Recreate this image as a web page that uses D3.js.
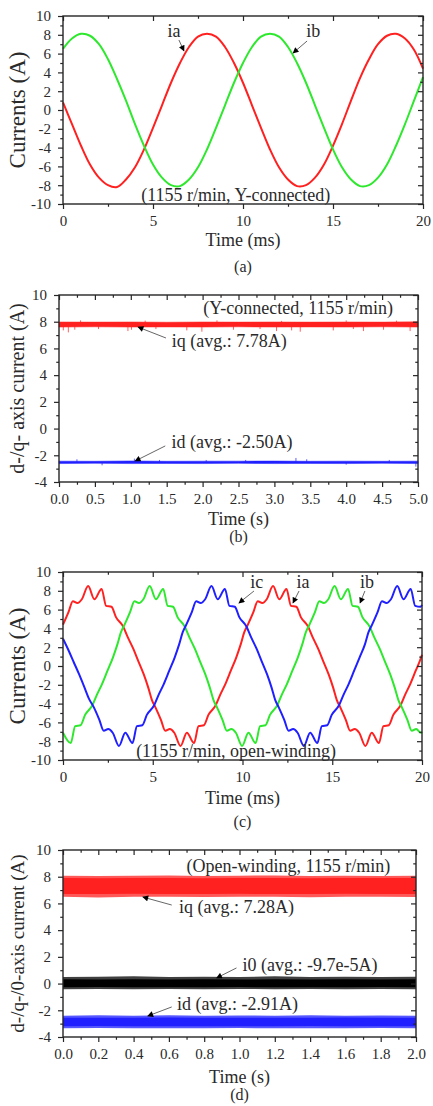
<!DOCTYPE html>
<html>
<head>
<meta charset="utf-8">
<script src="https://cdn.jsdelivr.net/npm/d3@7"></script>
<style>
  body { margin: 0; background: #fff; }
  svg { display: block; }
  text { font-family: "Liberation Serif", "Times New Roman", serif; fill: #2a2a2a; }
</style>
</head>
<body>
<svg id="chart" width="433" height="1106"></svg>
<script>
// ---------------- data ----------------

// (a) Y-connected phase currents, time in ms
const timeA = [0,0.5,1,1.5,2,2.5,3,3.5,4,4.5,5,5.5,6,6.5,7,7.5,8,8.5,9,9.5,10,
  10.5,11,11.5,12,12.5,13,13.5,14,14.5,15,15.5,16,16.5,17,17.5,18,18.5,19,19.5,20];
const iaA = [0.8,-1.5,-3.8,-5.8,-7.2,-8.0,-8.2,-7.4,-6.1,-4.2,-1.9,0.5,2.9,5.0,6.7,7.8,8.1,7.8,6.7,5.0,2.9,
  0.5,-1.9,-4.2,-6.1,-7.4,-8.1,-8.0,-7.2,-5.8,-3.8,-1.5,1.0,3.4,5.4,7.0,7.9,8.1,7.6,6.4,4.4];
const ibA = [6.5,7.6,8.1,7.9,7.0,5.4,3.3,1.0,-1.5,-3.8,-5.8,-7.2,-8.0,-8.1,-7.4,-6.1,-4.2,-1.9,0.5,2.9,5.0,
  6.7,7.8,8.1,7.8,6.7,5.0,2.9,0.5,-1.9,-4.2,-6.1,-7.4,-8.1,-8.0,-7.2,-5.8,-3.8,-1.5,1.0,3.5];

// (b) Y-connected d/q currents, time in s: [t, low edge, high edge]
const iqAvgB = 7.78;
const iqBandB = [[0,7.6,7.98],[0.5,7.62,7.97],[1,7.6,7.98],[1.5,7.61,7.96],[2,7.6,7.98],[2.5,7.62,7.97],
  [3,7.6,7.98],[3.5,7.61,7.97],[4,7.6,7.98],[4.5,7.62,7.97],[5,7.6,7.99]];
const iqSpikesB = [[0.06,7.35],[0.13,7.2],[0.22,7.4],[0.3,8.1],[0.55,7.45],[0.96,7.3],[1.01,7.4],[1.2,8.08],
  [1.35,7.45],[1.78,7.35],[1.99,7.25],[2.2,8.1],[2.43,7.4],[2.8,7.45],[3.03,7.3],[3.1,8.06],[3.24,7.35],
  [3.36,7.25],[3.82,7.35],[4.0,8.1],[4.1,7.45],[4.24,7.3],[4.52,7.4],[4.7,8.08],[4.89,7.3]];
const idAvgB = -2.50;
const idBandB = [[0,-2.62,-2.44],[0.5,-2.6,-2.45],[1,-2.62,-2.42],[1.5,-2.61,-2.45],[2,-2.62,-2.44],
  [2.5,-2.6,-2.44],[3,-2.62,-2.43],[3.5,-2.61,-2.45],[4,-2.62,-2.44],[4.5,-2.6,-2.45],[5,-2.62,-2.44]];
const idSpikesB = [[0.25,-2.3],[0.6,-2.75],[1.05,-2.25],[1.4,-2.35],[2.05,-2.35],[2.6,-2.35],[3.3,-2.2],
  [3.45,-2.3],[4.0,-2.7],[4.6,-2.35],[4.97,-2.85]];

// (c) open-winding phase currents, [t (ms), A]
const iaC = [[0,4.4],[0.3,5.7],[0.55,6.9],[0.8,6.7],[1.05,7.1],[1.4,8.5],[1.75,7.1],[2.15,8.2],[2.4,6.4],
  [2.7,6.3],[2.95,5.2],[3.35,4.2],[3.6,3.1],[3.9,1.9],[4.2,0.5],[4.5,-0.9],[4.75,-2.3],[4.95,-3.6],
  [5.15,-4.4],[5.45,-5.7],[5.7,-6.9],[5.95,-6.7],[6.2,-7.1],[6.55,-8.5],[6.9,-7.1],[7.3,-8.2],[7.55,-6.4],
  [7.85,-6.3],[8.1,-5.2],[8.5,-4.2],[8.75,-3.1],[9.05,-1.9],[9.35,-0.5],[9.65,0.9],[9.9,2.3],[10.1,3.6],
  [10.3,4.4],[10.6,5.7],[10.85,6.9],[11.1,6.7],[11.35,7.1],[11.7,8.5],[12.05,7.1],[12.45,8.2],[12.7,6.4],
  [13.0,6.3],[13.25,5.2],[13.65,4.2],[13.9,3.1],[14.2,1.9],[14.5,0.5],[14.8,-0.9],[15.05,-2.3],[15.25,-3.6],
  [15.45,-4.4],[15.75,-5.7],[16.0,-6.9],[16.25,-6.7],[16.5,-7.1],[16.85,-8.5],[17.2,-7.1],[17.6,-8.2],
  [17.85,-6.4],[18.15,-6.3],[18.4,-5.2],[18.8,-4.2],[19.05,-3.1],[19.35,-1.9],[19.65,-0.5],[19.95,0.9],[20,1.2]];
const ibC = [[0,-7.1],[0.43,-8.2],[0.68,-6.4],[0.98,-6.3],[1.23,-5.2],[1.63,-4.2],[1.88,-3.1],[2.18,-1.9],
  [2.48,-0.5],[2.78,0.9],[3.03,2.3],[3.23,3.6],[3.43,4.4],[3.73,5.7],[3.98,6.9],[4.23,6.7],[4.48,7.1],
  [4.83,8.5],[5.18,7.1],[5.58,8.2],[5.83,6.4],[6.13,6.3],[6.38,5.2],[6.78,4.2],[7.03,3.1],[7.33,1.9],
  [7.63,0.5],[7.93,-0.9],[8.18,-2.3],[8.38,-3.6],[8.58,-4.4],[8.88,-5.7],[9.13,-6.9],[9.38,-6.7],[9.63,-7.1],
  [9.98,-8.5],[10.33,-7.1],[10.73,-8.2],[10.98,-6.4],[11.28,-6.3],[11.53,-5.2],[11.93,-4.2],[12.18,-3.1],
  [12.48,-1.9],[12.78,-0.5],[13.08,0.9],[13.33,2.3],[13.53,3.6],[13.73,4.4],[14.03,5.7],[14.28,6.9],
  [14.53,6.7],[14.78,7.1],[15.13,8.5],[15.48,7.1],[15.88,8.2],[16.13,6.4],[16.43,6.3],[16.68,5.2],
  [17.08,4.2],[17.33,3.1],[17.63,1.9],[17.93,0.5],[18.23,-0.9],[18.48,-2.3],[18.68,-3.6],[18.88,-4.4],
  [19.18,-5.7],[19.43,-6.9],[19.68,-6.7],[19.93,-7.1],[20,-7.0]];
const icC = [[0,2.9],[0.3,1.7],[0.6,0.4],[0.9,-0.9],[1.2,-2.3],[1.45,-3.5],[1.72,-4.4],[2.02,-5.7],
  [2.27,-6.9],[2.52,-6.7],[2.77,-7.1],[3.12,-8.5],[3.47,-7.1],[3.87,-8.2],[4.12,-6.4],[4.42,-6.3],
  [4.67,-5.2],[5.07,-4.2],[5.32,-3.1],[5.62,-1.9],[5.92,-0.5],[6.22,0.9],[6.47,2.3],[6.67,3.6],[6.87,4.4],
  [7.17,5.7],[7.42,6.9],[7.67,6.7],[7.92,7.1],[8.27,8.5],[8.62,7.1],[9.02,8.2],[9.27,6.4],[9.57,6.3],
  [9.82,5.2],[10.22,4.2],[10.47,3.1],[10.77,1.9],[11.07,0.5],[11.37,-0.9],[11.62,-2.3],[11.82,-3.6],
  [12.02,-4.4],[12.32,-5.7],[12.57,-6.9],[12.82,-6.7],[13.07,-7.1],[13.42,-8.5],[13.77,-7.1],[14.17,-8.2],
  [14.42,-6.4],[14.72,-6.3],[14.97,-5.2],[15.37,-4.2],[15.62,-3.1],[15.92,-1.9],[16.22,-0.5],[16.52,0.9],
  [16.82,2.3],[17.02,3.6],[17.22,4.4],[17.52,5.7],[17.77,6.9],[18.02,6.7],[18.27,7.1],[18.62,8.5],
  [18.97,7.1],[19.37,8.2],[19.62,6.4],[19.92,6.3],[20,6.5]];

// (d) open-winding d/q/0 currents: [t (s), outer low, core low, core high, outer high]
const iqD = [[0,6.5,6.7,7.9,8.08],[0.2,6.45,6.7,7.88,8.05],[0.4,6.5,6.72,7.9,8.08],[0.6,6.5,6.7,7.9,8.1],
  [0.8,6.48,6.7,7.88,8.05],[1.0,6.5,6.72,7.9,8.08],[1.2,6.5,6.7,7.9,8.1],[1.4,6.47,6.7,7.88,8.06],
  [1.6,6.5,6.72,7.9,8.08],[1.8,6.5,6.7,7.9,8.05],[2.0,6.48,6.7,7.9,8.08]];
const i0D = [[0,-0.42,-0.28,0.32,0.5],[0.2,-0.4,-0.26,0.3,0.52],[0.4,-0.42,-0.28,0.32,0.55],[0.6,-0.4,-0.27,0.3,0.5],
  [0.8,-0.43,-0.28,0.32,0.52],[1.0,-0.4,-0.26,0.3,0.5],[1.2,-0.42,-0.28,0.32,0.54],[1.4,-0.4,-0.27,0.31,0.5],
  [1.6,-0.42,-0.28,0.32,0.52],[1.8,-0.4,-0.26,0.3,0.5],[2.0,-0.42,-0.28,0.32,0.52]];
const idD = [[0,-3.35,-3.2,-2.55,-2.4],[0.2,-3.33,-3.18,-2.56,-2.38],[0.4,-3.35,-3.2,-2.55,-2.4],
  [0.6,-3.34,-3.2,-2.54,-2.37],[0.8,-3.35,-3.19,-2.55,-2.4],[1.0,-3.33,-3.2,-2.56,-2.39],[1.2,-3.35,-3.2,-2.55,-2.4],
  [1.4,-3.34,-3.18,-2.55,-2.38],[1.6,-3.35,-3.2,-2.54,-2.4],[1.8,-3.33,-3.2,-2.55,-2.39],[2.0,-3.35,-3.2,-2.55,-2.4]];

// ticks
const xTicksMs = [0,5,10,15,20];
const xMinorMs = [2.5,7.5,12.5,17.5];
const yTicks10 = [-10,-8,-6,-4,-2,0,2,4,6,8,10];
const yMinor10 = [-9,-7,-5,-3,-1,1,3,5,7,9];
const yTicks4 = [-4,-2,0,2,4,6,8,10];
const yMinor4 = [-3,-1,1,3,5,7,9];
const xTicksB = [0,0.5,1,1.5,2,2.5,3,3.5,4,4.5,5];
const xMinorB = [0.25,0.75,1.25,1.75,2.25,2.75,3.25,3.75,4.25,4.75];
const xTicksD = [0,0.2,0.4,0.6,0.8,1.0,1.2,1.4,1.6,1.8,2.0];
const xMinorD = [0.1,0.3,0.5,0.7,0.9,1.1,1.3,1.5,1.7,1.9];

// texts
const notesA = ["ia", "ib"];
const condA = "(1155 r/min, Y-connected)";
const notesB = ["iq (avg.: 7.78A)", "id (avg.: -2.50A)"];
const condB = "(Y-connected, 1155 r/min)";
const notesC = ["ic", "ia", "ib"];
const condC = "(1155 r/min, open-winding)";
const notesD = ["iq (avg.: 7.28A)", "i0 (avg.: -9.7e-5A)", "id (avg.: -2.91A)"];
const condD = "(Open-winding, 1155 r/min)";

// ---------------- drawing ----------------
const FONT = '"Liberation Serif", "Times New Roman", serif';
const INK = "#262626";
const RED = "#ff2020", GREEN = "#2ee82e", BLUE = "#1f1fff";

const svg = d3.select("#chart");

const defs = svg.append("defs");
defs.append("marker")
  .attr("id", "arrow")
  .attr("viewBox", "0 0 10 10")
  .attr("refX", 9).attr("refY", 5)
  .attr("markerUnits", "userSpaceOnUse")
  .attr("markerWidth", 7).attr("markerHeight", 6)
  .attr("orient", "auto")
  .append("path")
  .attr("d", "M0,0 L10,5 L0,10 Z")
  .attr("fill", "#000");

const fmtInt = (d) => String(d);
const fmt1 = (d) => d.toFixed(1);

function setupPanel(p) {
  const x = d3.scaleLinear().domain(p.xDomain).range([p.left, p.right]);
  const y = d3.scaleLinear().domain(p.yDomain).range([p.bottom, p.top]);
  const g = svg.append("g").attr("class", "panel-" + p.id);
  const dataG = g.append("g").attr("class", "data");
  const axisG = g.append("g").attr("class", "axes");

  const addAxis = (axisFn, scale, tr, major, minor, size, fmt, pad) => {
    axisG.append("g").attr("transform", tr)
      .call(axisFn(scale).tickValues(minor).tickSize(size * 0.55).tickFormat(""))
      .call((s) => s.select(".domain").remove())
      .attr("color", INK);
    axisG.append("g").attr("transform", tr)
      .call(axisFn(scale).tickValues(major).tickSize(size).tickPadding(pad).tickFormat(fmt || ""))
      .call((s) => s.select(".domain").remove())
      .attr("color", INK)
      .attr("font-family", FONT)
      .attr("font-size", 15);
  };
  addAxis(d3.axisBottom, x, `translate(0,${p.bottom})`, p.xTicks, p.xMinor, 5, p.xFmt, 6);
  addAxis(d3.axisTop, x, `translate(0,${p.top})`, p.xTicks, p.xMinor, -5, null, 0);
  addAxis(d3.axisLeft, y, `translate(${p.left},0)`, p.yTicks, p.yMinor, 5, fmtInt, 7);
  addAxis(d3.axisRight, y, `translate(${p.right},0)`, p.yTicks, p.yMinor, -5, null, 0);
  axisG.selectAll(".tick line").attr("stroke-width", 1.2);
  axisG.selectAll(".tick text").attr("fill", INK);

  axisG.append("rect")
    .attr("x", p.left).attr("y", p.top)
    .attr("width", p.right - p.left).attr("height", p.bottom - p.top)
    .attr("fill", "none").attr("stroke", INK).attr("stroke-width", 1.4);

  // titles
  g.append("text")
    .attr("x", (p.left + p.right) / 2).attr("y", p.xTitleY)
    .attr("text-anchor", "middle").attr("font-size", 18)
    .text(p.xTitle);
  g.append("text")
    .attr("transform", `translate(${p.yTitleX},${(p.top + p.bottom) / 2}) rotate(-90)`)
    .attr("text-anchor", "middle").attr("dominant-baseline", "central")
    .attr("font-size", p.yTitleSize)
    .text(p.yTitle);
  g.append("text")
    .attr("x", (p.left + p.right) / 2).attr("y", p.capY)
    .attr("text-anchor", "middle").attr("font-size", 16)
    .text(p.caption);

  // condition text
  g.append("text")
    .attr("x", x(p.cond.at[0])).attr("y", y(p.cond.at[1]))
    .attr("text-anchor", "middle").attr("font-size", 18)
    .text(p.cond.text);

  // annotations with arrows
  p.notes.forEach((n) => {
    g.append("text")
      .attr("x", x(n.at[0])).attr("y", y(n.at[1]))
      .attr("text-anchor", "middle").attr("font-size", 18)
      .text(n.text);
    g.append("line")
      .attr("x1", x(n.tail[0])).attr("y1", y(n.tail[1]))
      .attr("x2", x(n.tip[0])).attr("y2", y(n.tip[1]))
      .attr("stroke", "#555").attr("stroke-width", 0.9)
      .attr("marker-end", "url(#arrow)");
  });

  return { x, y, dataG };
}

// ---- panel (a)
{
  const p = {
    id: "a", left: 63, right: 423, top: 16, bottom: 204,
    xDomain: [0, 20], yDomain: [-10, 10],
    xTicks: xTicksMs, xMinor: xMinorMs, yTicks: yTicks10, yMinor: yMinor10, xFmt: fmtInt,
    xTitle: "Time (ms)", xTitleY: 246, yTitle: "Currents (A)", yTitleX: 17, yTitleSize: 23,
    caption: "(a)", capY: 272,
    cond: { text: condA, at: [9.6, -9.68] },
    notes: [
      { text: notesA[0], at: [6.17, 7.77], tail: [6.44, 7.45], tip: [6.72, 6.28] },
      { text: notesA[1], at: [13.9, 7.77], tail: [13.56, 7.34], tip: [12.78, 6.06] },
    ],
  };
  const { x, y, dataG } = setupPanel(p);
  const line = d3.line().x((d, i) => x(timeA[i])).y((d) => y(d)).curve(d3.curveCatmullRom);
  dataG.append("path").attr("d", line(iaA)).attr("fill", "none").attr("stroke", RED).attr("stroke-width", 2);
  dataG.append("path").attr("d", line(ibA)).attr("fill", "none").attr("stroke", GREEN).attr("stroke-width", 2);
}

// ---- panel (b)
{
  const p = {
    id: "b", left: 59, right: 418, top: 295, bottom: 482,
    xDomain: [0, 5], yDomain: [-4, 10],
    xTicks: xTicksB, xMinor: xMinorB, yTicks: yTicks4, yMinor: yMinor4, xFmt: fmt1,
    xTitle: "Time (s)", xTitleY: 525, yTitle: "d-/q- axis current (A)", yTitleX: 17, yTitleSize: 20,
    caption: "(b)", capY: 542,
    cond: { text: condB, at: [3.33, 8.58] },
    notes: [
      { text: notesB[0], at: [2.37, 6.11], tail: [1.49, 6.78], tip: [1.10, 7.6] },
      { text: notesB[1], at: [2.41, -1.45], tail: [1.48, -1.30], tip: [1.06, -2.43] },
    ],
  };
  const { x, y, dataG } = setupPanel(p);
  const band = d3.area().x((d) => x(d[0])).y0((d) => y(d[1])).y1((d) => y(d[2]));
  const spikes = (data, base, color) => {
    dataG.append("g").selectAll("line").data(data).join("line")
      .attr("x1", (d) => x(d[0])).attr("x2", (d) => x(d[0]))
      .attr("y1", y(base)).attr("y2", (d) => y(d[1]))
      .attr("stroke", color).attr("stroke-width", 1).attr("opacity", 0.7);
  };
  spikes(iqSpikesB, iqAvgB, RED);
  dataG.append("path").attr("d", band(iqBandB)).attr("fill", RED).attr("stroke", RED).attr("stroke-opacity", 0.5);
  spikes(idSpikesB, idAvgB, BLUE);
  dataG.append("path").attr("d", band(idBandB)).attr("fill", BLUE).attr("stroke", BLUE).attr("stroke-opacity", 0.5);
}

// ---- panel (c)
{
  const p = {
    id: "c", left: 63, right: 422, top: 572, bottom: 760,
    xDomain: [0, 20], yDomain: [-10, 10],
    xTicks: xTicksMs, xMinor: xMinorMs, yTicks: yTicks10, yMinor: yMinor10, xFmt: fmtInt,
    xTitle: "Time (ms)", xTitleY: 804, yTitle: "Currents (A)", yTitleX: 17, yTitleSize: 23,
    caption: "(c)", capY: 827,
    cond: { text: condC, at: [9.64, -9.68] },
    notes: [
      { text: notesC[0], at: [10.8, 8.3], tail: [10.64, 7.98], tip: [9.8, 6.7] },
      { text: notesC[1], at: [13.37, 8.3], tail: [13.15, 7.98], tip: [12.81, 6.7] },
      { text: notesC[2], at: [16.94, 8.3], tail: [16.82, 7.98], tip: [16.55, 6.7] },
    ],
  };
  const { x, y, dataG } = setupPanel(p);
  const line = d3.line().x((d) => x(d[0])).y((d) => y(d[1])).curve(d3.curveMonotoneX);
  [[iaC, RED], [ibC, GREEN], [icC, BLUE]].forEach(([s, c]) => {
    dataG.append("path").attr("d", line(s)).attr("fill", "none").attr("stroke", c).attr("stroke-width", 2);
  });
}

// ---- panel (d)
{
  const p = {
    id: "d", left: 63, right: 416, top: 850, bottom: 1037,
    xDomain: [0, 2], yDomain: [-4, 10],
    xTicks: xTicksD, xMinor: xMinorD, yTicks: yTicks4, yMinor: yMinor4, xFmt: fmt1,
    xTitle: "Time (s)", xTitleY: 1083, yTitle: "d-/q-/0-axis current (A)", yTitleX: 17, yTitleSize: 19,
    caption: "(d)", capY: 1100,
    cond: { text: condD, at: [1.277, 8.35] },
    notes: [
      { text: notesD[0], at: [0.983, 5.28], tail: [0.616, 5.88], tip: [0.452, 6.48] },
      { text: notesD[1], at: [1.40, 0.94], tail: [0.983, 1.17], tip: [0.87, 0.42] },
      { text: notesD[2], at: [0.989, -1.98], tail: [0.616, -1.75], tip: [0.48, -2.43] },
    ],
  };
  const { x, y, dataG } = setupPanel(p);
  const outer = d3.area().x((d) => x(d[0])).y0((d) => y(d[1])).y1((d) => y(d[4]));
  const core = d3.area().x((d) => x(d[0])).y0((d) => y(d[2])).y1((d) => y(d[3]));
  [[iqD, RED], [i0D, "#000"], [idD, BLUE]].forEach(([s, c]) => {
    dataG.append("path").attr("d", outer(s)).attr("fill", c).attr("opacity", 0.75);
    dataG.append("path").attr("d", core(s)).attr("fill", c);
  });
}
</script>
</body>
</html>
